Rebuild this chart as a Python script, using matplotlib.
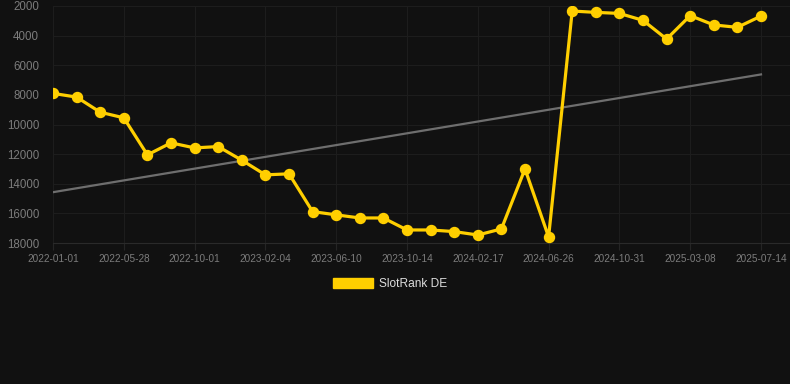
import numpy as np
import matplotlib
matplotlib.use("Agg")
import matplotlib.pyplot as plt
from matplotlib.patches import Patch

plt.rcParams['font.family'] = ['Liberation Sans', 'DejaVu Sans']

# rank values, one point per period (x is index based, evenly spaced)
rank = [7900, 8150, 9170, 9550, 12050, 11240, 11580, 11490, 12410, 13400,
        13330, 15880, 16100, 16310, 16310, 17120, 17120, 17230, 17460, 17050,
        13000, 17590, 2340, 2430, 2500, 2970, 4230, 2650, 3280, 3440, 2680]
tick_labels = ['2022-01-01', '2022-05-28', '2022-10-01', '2023-02-04', '2023-06-10',
               '2023-10-14', '2024-02-17', '2024-06-26', '2024-10-31', '2025-03-08',
               '2025-07-14']
trend_ends = [14570, 6620]
y_ticks = [2000, 4000, 6000, 8000, 10000, 12000, 14000, 16000, 18000]

bg = '#111111'
yellow = '#ffcf00'

fig = plt.figure(figsize=(7.9, 3.84), dpi=100, facecolor=bg)
ax = fig.add_axes([53 / 790, 1 - 243 / 384, 1 - 53 / 790, (243 - 6) / 384])
ax.set_facecolor(bg)

x = np.arange(len(rank))
ax.plot([x[0], x[-1]], trend_ends, color='#6e6e6e', lw=1.6, zorder=2)
ax.plot(x, rank, color=yellow, lw=2.3, marker='o', ms=7.2, zorder=3,
        solid_joinstyle='round')

ax.set_xlim(0, 30 + 29 / 23.6)
ax.set_ylim(18000, 2000)
ax.set_xticks(x[::3])
ax.set_xticklabels(tick_labels)
ax.set_yticks(y_ticks)
ax.set_yticklabels([str(v) for v in y_ticks])

ax.grid(True, color='#1d1d1d', lw=0.8)
for s in ax.spines.values():
    s.set_visible(False)
ax.spines['bottom'].set_visible(True)
ax.spines['bottom'].set_color('#2a2a2a')
ax.spines['bottom'].set_linewidth(0.8)
ax.tick_params(axis='x', colors='#252525', labelcolor='#7c7c7c', labelsize=7.2,
               length=5, width=0.8, pad=3)
ax.tick_params(axis='y', colors=bg, labelcolor='#7c7c7c', labelsize=8.3,
               length=0, pad=10)

fig.legend(handles=[Patch(facecolor=yellow, edgecolor=yellow, label='SlotRank DE')],
           loc='center', bbox_to_anchor=(390 / 790, 1 - 284 / 384), frameon=False,
           fontsize=8.6, labelcolor='#dddddd', handlelength=3.3, handleheight=1.0,
           handletextpad=0.5)

fig.savefig('out.png', dpi=100, facecolor=bg)
